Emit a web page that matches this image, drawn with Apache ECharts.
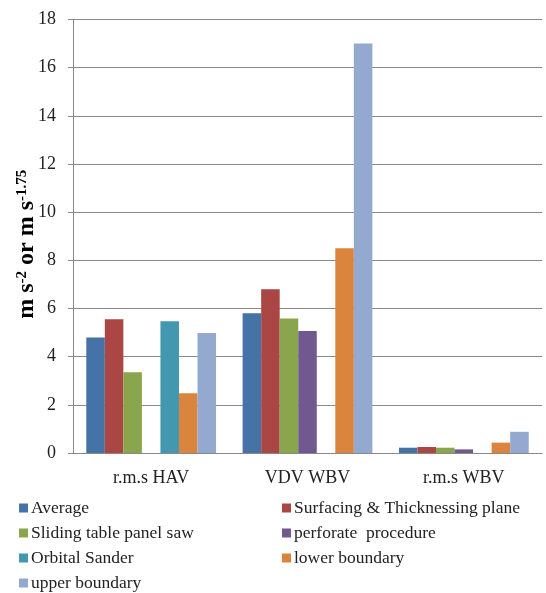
<!DOCTYPE html>
<html>
<head>
<meta charset="utf-8">
<script src="https://cdn.jsdelivr.net/npm/echarts@6/dist/echarts.min.js"></script>
<style>html,body{margin:0;padding:0;background:#fff;}#c{width:546px;height:593px;}</style>
</head>
<body>
<div id="c"></div>
<script>
const categories = ['r.m.s HAV', 'VDV WBV', 'r.m.s WBV'];
const seriesNames = ['Average', 'Surfacing & Thicknessing plane', 'Sliding table panel saw', 'perforate  procedure', 'Orbital Sander', 'lower boundary', 'upper boundary'];
const average = [4.8, 5.8, 0.22];
const surfacing = [5.55, 6.8, 0.25];
const sliding = [3.35, 5.58, 0.22];
const perforate = [null, 5.07, 0.15];
const orbital = [5.47, null, null];
const lowerBoundary = [2.48, 8.5, 0.43];
const upperBoundary = [4.98, 17.0, 0.88];
const yTicks = [0, 2, 4, 6, 8, 10, 12, 14, 16, 18];

const values = [average, surfacing, sliding, perforate, orbital, lowerBoundary, upperBoundary];
const colors = ['#4572A7', '#AA4643', '#89A54E', '#71588F', '#4198AF', '#DB843D', '#93A9CF'];
const font = "'Liberation Serif', 'Times New Roman', serif";

const chart = echarts.init(document.getElementById('c'));
const legendText = { fontFamily: font, fontSize: 17.5, color: '#222', padding: [0, 0, 0, -2] };
const legendCommon = { orient: 'vertical', top: 494, height: 120, itemWidth: 9, itemHeight: 9, itemGap: 7, icon: 'rect', textStyle: legendText };
chart.setOption({
  animation: false,
  backgroundColor: '#fff',
  grid: { left: 73, right: 4, top: 19.5, bottom: 140, containLabel: false, outerBoundsMode: 'none' },
  legend: [
    Object.assign({ left: 14, data: [seriesNames[0], seriesNames[2], seriesNames[4], seriesNames[6]] }, legendCommon),
    Object.assign({ left: 277, data: [seriesNames[1], seriesNames[3], seriesNames[5]] }, legendCommon)
  ],
  xAxis: {
    type: 'category', data: categories,
    axisLine: { lineStyle: { color: '#888', width: 1 } },
    axisTick: { show: false },
    axisLabel: { fontFamily: font, fontSize: 18, color: '#222', margin: 16 }
  },
  yAxis: {
    type: 'value', min: 0, max: 18, interval: 2,
    name: '{b|m s}{s|-2}{b| or m s}{s|-1.75}',
    nameLocation: 'middle', nameGap: 34, nameRotate: 90, nameMoveOverlap: false,
    nameTextStyle: {
      padding: [0, 16, 0, 0],
      rich: {
        b: { fontFamily: font, fontSize: 24, fontWeight: 'bold', color: '#000', verticalAlign: 'bottom', lineHeight: 24 },
        s: { fontFamily: font, fontSize: 15, fontWeight: 'bold', color: '#000', verticalAlign: 'top', lineHeight: 24 }
      }
    },
    axisLine: { show: true, lineStyle: { color: '#888', width: 1 } },
    axisTick: { show: true, length: 5, lineStyle: { color: '#888' } },
    axisLabel: { fontFamily: font, fontSize: 18, color: '#222', margin: 17,
      formatter: v => yTicks.includes(v) ? String(v) : '' },
    splitLine: { lineStyle: { color: '#8a8a8a', width: 1 } }
  },
  series: seriesNames.map((n, i) => ({
    name: n, type: 'bar', data: values[i],
    barGap: '0%', barCategoryGap: '17%',
    itemStyle: { color: colors[i] }
  }))
});
</script>
</body>
</html>
